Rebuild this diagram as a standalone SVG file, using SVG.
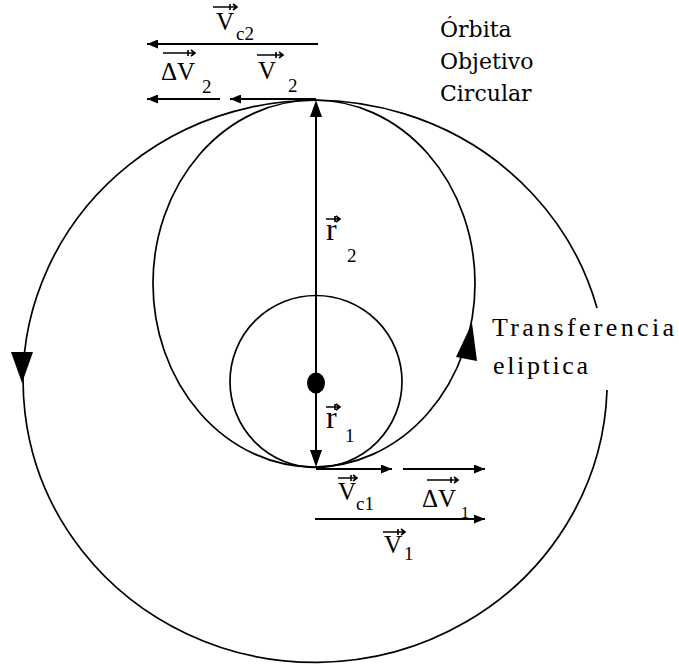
<svg xmlns="http://www.w3.org/2000/svg" width="679" height="667" viewBox="0 0 679 667">
<style>
.orb{fill:none;stroke:#000;stroke-width:1.7}
.vec{fill:none;stroke:#000;stroke-width:2;marker-end:url(#ah)}
.ov{fill:none;stroke:#000;stroke-width:1.6}
.lbl{font-family:"Liberation Serif","Times New Roman",serif;fill:#000}
.big{font-size:25px}
.sub{font-size:19px}
.rr{font-size:32px}
.ttl{font-family:"DejaVu Serif",serif;font-size:22px;fill:#000}
.tr{font-family:"Liberation Serif","Times New Roman",serif;font-size:26px;fill:#000}
</style>
<defs>
<marker id="ah" markerUnits="userSpaceOnUse" markerWidth="11" markerHeight="9" refX="11" refY="4.5" orient="auto">
<path d="M0,0 L11,4.5 L0,9 z" fill="#000"/>
</marker>
</defs>
<rect width="679" height="667" fill="#fff"/>
<g id="orbita-objetivo">
<path class="orb" d="M607 390 A292 281 0 1 1 597 308"/>
<path d="M11 352 L33 352 L22 383 z" fill="#000"/>
</g>
<g id="transferencia">
<ellipse class="orb" cx="314" cy="283.5" rx="161" ry="183.5"/>
<path d="M472 323 L456 357 L477 361 z" fill="#000"/>
</g>
<g id="orbita-inicial">
<circle class="orb" cx="316" cy="381.5" r="86"/>
</g>
<g id="cuerpo">
<ellipse cx="316" cy="383" rx="9" ry="10.5" fill="#000"/>
</g>
<g id="connectors">
<line x1="316" y1="112" x2="316" y2="455" stroke="#000" stroke-width="2"/>
<path d="M316 100 L310 117 L322 117 z" fill="#000"/>
<path d="M316 467 L310 450 L322 450 z" fill="#000"/>
<path class="vec" d="M318 44 L147 44"/>
<path class="vec" d="M220 99 L147 99"/>
<path class="vec" d="M316 99 L230 99"/>
<path class="vec" d="M316 469 L392 469"/>
<path class="vec" d="M403 469 L485 469"/>
<path class="vec" d="M315 519 L485 519"/>
</g>
<g id="labels">
<g class="ov">
<path d="M213 7 H237 M230 4 V10 M233 4 L237 7 L233 10"/>
<path d="M163 53 H195 M188 50 V56 M191 50 L195 53 L191 56"/>
<path d="M257 55 H283 M276 52 V58 M279 52 L283 55 L279 58"/>
<path d="M326 219 H340 M335 216 V222 M336 216 L340 219 L336 222"/>
<path d="M326 407 H340 M335 404 V410 M336 404 L340 407 L336 410"/>
<path d="M338 478 H357 M351 475 V481 M353 475 L357 478 L353 481"/>
<path d="M427 480 H458 M451 477 V483 M454 477 L458 480 L454 483"/>
<path d="M383 532 H405 M398 529 V535 M401 529 L405 532 L401 535"/>
</g>
<text class="lbl big" x="216" y="30">V</text><text class="lbl sub" x="236" y="40">c2</text>
<text class="lbl big" x="161" y="80">ΔV</text><text class="lbl sub" x="202" y="93">2</text>
<text class="lbl big" x="258" y="79">V</text><text class="lbl sub" x="288" y="92">2</text>
<text class="lbl rr" x="326" y="240">r</text><text class="lbl sub" x="347" y="262">2</text>
<text class="lbl rr" x="326" y="428">r</text><text class="lbl sub" x="345" y="442">1</text>
<text class="lbl big" x="338" y="500">V</text><text class="lbl sub" x="356" y="510">c1</text>
<text class="lbl big" x="422" y="507">ΔV</text><text class="lbl" font-size="16" x="461" y="518">1</text>
<text class="lbl big" x="384" y="553">V</text><text class="lbl sub" x="404" y="560">1</text>
<text class="ttl" x="440" y="37">Órbita</text>
<text class="ttl" x="440" y="69">Objetivo</text>
<text class="ttl" x="440" y="101">Circular</text>
<text class="tr" x="492" y="336" textLength="182" lengthAdjust="spacing">Transferencia</text>
<text class="tr" x="493" y="374" textLength="95" lengthAdjust="spacing">eliptica</text>
</g>
</svg>
